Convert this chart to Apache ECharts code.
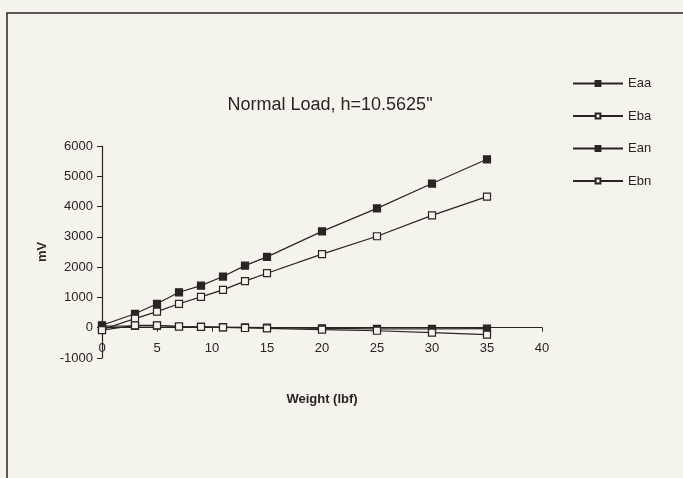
<!DOCTYPE html>
<html>
<head>
<meta charset="utf-8">
<script src="https://cdn.jsdelivr.net/npm/echarts@6/dist/echarts.min.js"></script>
<style>
	html, body { margin: 0; padding: 0; background: #f4f3ec; }
	#chart { width: 683px; height: 478px; }
</style>
</head>
<body>
<div id="chart"></div>
<script>
	// weight (lbf)
	var weights = [0, 3, 5, 7, 9, 11, 13, 15, 20, 25, 30, 35]
	// mV readings
	var eaa = [80, 460, 790, 1170, 1390, 1690, 2050, 2340, 3180, 3940, 4760, 5560]
	var eba = [-60, 300, 530, 790, 1020, 1250, 1540, 1800, 2430, 3020, 3710, 4330]
	var ean = [50, 60, 70, 40, 30, 20, 10, 0, -20, -40, -40, -30]
	var ebn = [-80, 80, 80, 40, 30, 10, -10, -20, -60, -100, -160, -230]
	var seriesNames = ['Eaa', 'Eba', 'Ean', 'Ebn']

	function pairs(vals) {
		return weights.map(function (w, i) { return [w, vals[i]] })
	}

	var font = '"Liberation Sans", Arial, sans-serif'
	var ink = '#2a2424'
	var paper = '#f4f3ec'

	function makeSeries(name, vals, filled) {
		return {
			name: name,
			type: 'line',
			data: pairs(vals),
			symbol: 'rect',
			symbolSize: 7,
			showSymbol: true,
			lineStyle: { color: ink, width: 1.2 },
			itemStyle: {
				color: filled ? ink : paper,
				borderColor: ink,
				borderWidth: 1.2
			},
			emphasis: { disabled: true },
			animation: false
		}
	}

	var myChart = echarts.init(document.getElementById('chart'))
	var option = {
		backgroundColor: paper,
		animation: false,
		title: {
			text: 'Normal Load, h=10.5625"',
			left: 325,
			top: 91,
			textAlign: 'center',
			textStyle: { fontFamily: font, fontSize: 18, fontWeight: 'normal', color: ink }
		},
		legend: {
			orient: 'vertical',
			left: 567,
			top: 72,
			itemWidth: 50,
			itemHeight: 6,
			itemGap: 19.5,
			textStyle: { fontFamily: font, fontSize: 13, color: ink },
			data: seriesNames
		},
		graphic: [{
			type: 'rect',
			shape: { x: 7, y: 13, width: 700, height: 500 },
			style: { fill: 'none', stroke: ink, lineWidth: 1.5 },
			silent: true
		}],
		grid: { left: 102, right: 141, top: 146, bottom: 120 },
		xAxis: {
			type: 'value',
			min: 0,
			max: 40,
			interval: 5,
			name: 'Weight (lbf)',
			nameLocation: 'middle',
			nameGap: 35,
			nameTextStyle: { fontFamily: font, fontSize: 13, fontWeight: 'bold', color: ink },
			axisLine: { onZero: true, lineStyle: { color: ink, width: 1 } },
			axisTick: { show: true, inside: false, length: 4, lineStyle: { color: ink } },
			axisLabel: { fontFamily: font, fontSize: 13, color: ink, margin: -16 },
			splitLine: { show: false }
		},
		yAxis: {
			type: 'value',
			min: -1000,
			max: 6000,
			interval: 1000,
			name: 'mV',
			nameLocation: 'middle',
			nameGap: 52,
			nameRotate: 90,
			nameTextStyle: { fontFamily: font, fontSize: 13, fontWeight: 'bold', color: ink },
			axisLine: { show: true, onZero: false, lineStyle: { color: ink, width: 1.2 } },
			axisTick: { show: true, length: 5, lineStyle: { color: ink } },
			axisLabel: {
				fontFamily: font, fontSize: 13, color: ink, margin: 9,
				formatter: function (v) { return String(v) }
			},
			splitLine: { show: false }
		},
		series: [
			makeSeries('Eaa', eaa, true),
			makeSeries('Eba', eba, false),
			makeSeries('Ean', ean, true),
			makeSeries('Ebn', ebn, false)
		]
	}
	myChart.setOption(option, true)
</script>
</body>
</html>
